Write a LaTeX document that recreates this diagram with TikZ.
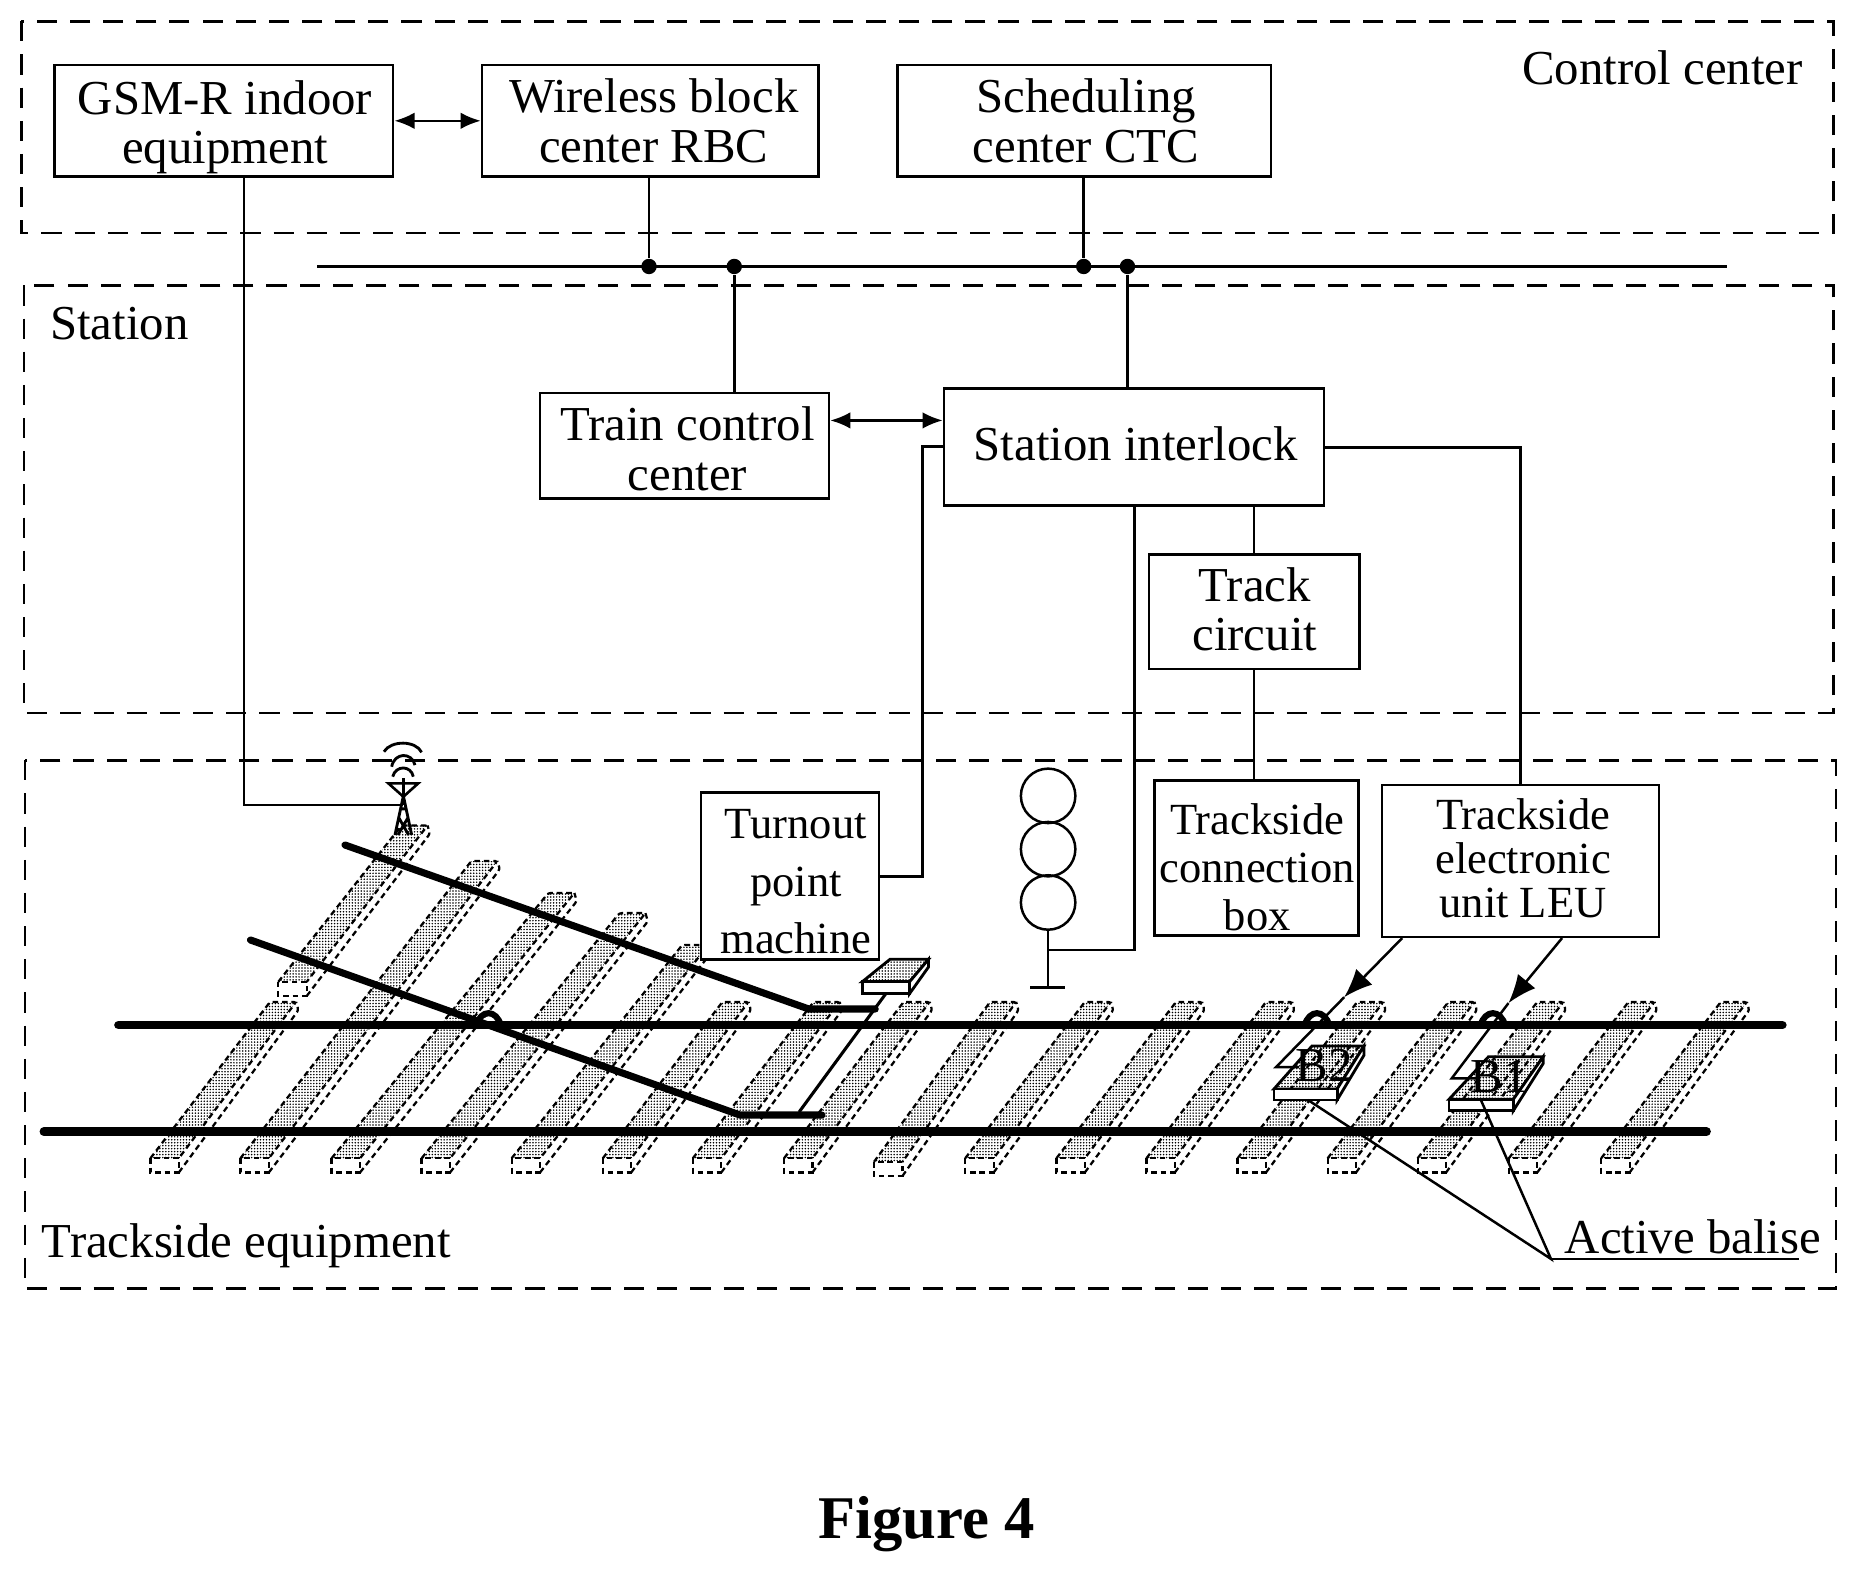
\documentclass[tikz,border=0pt]{standalone}
\usepackage{fontspec}
\setmainfont{Liberation Serif}
\usetikzlibrary{arrows.meta,patterns.meta,calc}
\newcommand{\fs}[2]{\fontsize{#1}{#2}\selectfont}
\newcommand{\tx}[3]{\kern#1\setbox0=\hbox{\begin{tabular}{@{}c@{}}#3\end{tabular}}\raisebox{\dimexpr#2+(\dp0-\ht0)/2\relax}[0pt][0pt]{\copy0}}
% style, name, x1,y1,x2,y2, text
\newcommand{\bx}[7]{\node[#1,minimum width={(#5-#3)*0.5pt},minimum height={(#6-#4)*0.5pt}] (#2) at ({(#3+#5)/2},{(#4+#6)/2}) {#7};}
% x0, y0 (front top-left), top-left x offset, top y
\newcommand{\sleeper}[4]{%
  \fill[slfill] (#1,#2) -- ({#1+#3},#4) -- ({#1+#3+22},#4) -- ({#1+24},#2) -- cycle;
  \draw[sldash] (#1,#2) -- ({#1+#3},#4) -- ({#1+#3+22},#4) -- ({#1+24},#2);
  \draw[sldash,rounded corners=0pt] (#1,#2) rectangle ({#1+24},{#2+12});
  \draw[sldash] ({#1+24},{#2+12}) -- ({#1+#3+24},{#4+7}) -- ({#1+#3+22},#4);
}
\begin{document}
\begin{tikzpicture}[x=0.5pt,y=-0.5pt,line join=miter,
  zone/.style={line width=1pt,dash pattern=on 8.5pt off 5.5pt},
  box/.style={draw,line width=1.05pt,fill=white,inner sep=0pt,font=\fs{20.6}{21}},
  wire/.style={line width=1.05pt},
  dar/.style={wire,{Latex[length=8.5pt,width=7pt]}-{Latex[length=8.5pt,width=7pt]}},
  har/.style={wire,-{Latex[length=12pt,width=9.5pt]}},
  lab/.style={font=\fs{20.6}{20.6},inner sep=0pt},
  dot/.style={circle,fill=black,inner sep=0pt,minimum size=6.5pt},
  lamp/.style={circle,draw,line width=1.05pt,minimum size=23pt,inner sep=0pt},
  rail/.style={line width=3.6pt,line cap=round},
  turn/.style={line width=3pt,line cap=round,line join=round},
  hump/.style={line width=2.6pt},
  slfill/.style={pattern={Dots[radius=0.36pt,distance=1.25pt]},pattern color=black},
  sldash/.style={line width=0.95pt,dash pattern=on 2.4pt off 1.6pt,rounded corners=1pt},
  bface/.style={draw,line width=1.2pt,pattern={Dots[radius=0.36pt,distance=1.25pt]},pattern color=black},
  bfront/.style={draw,line width=1.2pt,fill=white}]
\useasboundingbox (0,0) rectangle (1568,1327.4);

% zones
\draw[zone] (18,18) rectangle (1548,197);
\draw[zone] (20,241) rectangle (1548,602);
\draw[zone] (21,642) rectangle (1550,1088);

% sleepers
\sleeper{235}{829}{104}{697}
\sleeper{127}{978}{101}{846}
\sleeper{203}{978}{195}{727}
\sleeper{280}{978}{183}{754}
\sleeper{356}{978}{167}{771}
\sleeper{432}{978}{144}{798}
\sleeper{509}{978}{101}{846}
\sleeper{585}{978}{102}{846}
\sleeper{662}{978}{101}{846}
\sleeper{738}{981}{98}{846}
\sleeper{815}{978}{101}{846}
\sleeper{892}{978}{101}{846}
\sleeper{968}{978}{101}{846}
\sleeper{1045}{978}{101}{846}
\sleeper{1121}{978}{102}{846}
\sleeper{1197}{978}{101}{846}
\sleeper{1274}{978}{101}{846}
\sleeper{1352}{978}{101}{846}

% rails
\coordinate (r1a) at (100,865.5);
\coordinate (r1b) at (1505,865.5);
\coordinate (r2a) at (37,955.5);
\coordinate (r2b) at (1441,955.5);
\draw[rail] (r1a) -- (r1b);
\draw[rail] (r2a) -- (r2b);
\coordinate (u1) at (291.3,713.5);
\coordinate (u2) at (683,852);
\coordinate (u3) at (739,852);
\coordinate (v1) at (211.5,793.7);
\coordinate (v2) at (624.8,941.5);
\coordinate (v3) at (694,941.5);
\draw[turn] (u1) -- (u2) -- (u3);
\draw[turn] (v1) -- (v2) -- (v3);
\draw[hump] (402,866) .. controls (406,852) and (419,852) .. (423,866);
\draw[hump] (1101.5,866) .. controls (1105.5,852) and (1118.5,852) .. (1122.5,866);
\draw[hump] (1250,866) .. controls (1254,852) and (1267,852) .. (1271,866);

% point machine body
\coordinate (pmA) at (674.7,939);
\coordinate (pmB) at (748.7,838);
\draw[line width=1.3pt] (pmA) -- (pmB);
\draw[bface] (728,829) -- (751.5,810) -- (784,810) -- (768,829) -- cycle;
\draw[bfront] (768,829) -- (784,810) -- (784,816.5) -- (768,839) -- cycle;
\draw[bfront] (728,829) rectangle (768,839);

% control centre boxes
\bx{box}{gsm}{46}{55}{332}{149}{\tx{1pt}{-3.5pt}{GSM-R indoor\\equipment}}
\bx{box}{rbc}{407}{55}{691}{149}{\tx{3pt}{-3pt}{Wireless block\\center RBC}}
\bx{box}{ctc}{758}{55}{1073}{149}{\tx{1.5pt}{-3pt}{Scheduling\\center CTC}}
\node[lab,anchor=west] (cc) at (1285,57.5) {Control center};
\node[lab,anchor=west] (st) at (42,273) {Station};
\node[lab,anchor=west] (te) at (35,1052) {Trackside equipment};

% station boxes
\bx{box}{tcc}{456}{332}{700}{421}{\tx{2.5pt}{-4pt}{Train control\\center}}
\bx{box}{ilk}{797}{328}{1118}{427}{\tx{1.5pt}{-1.5pt}{Station interlock}}
\bx{box,font=\fs{20.6}{20.6}}{tkc}{970}{468}{1148}{565}{\tx{0.5pt}{-2pt}{Track\\circuit}}

% trackside boxes
\bx{box,font=\fs{18.8}{24.3}}{tpm}{592}{669}{742}{810}{\tx{5pt}{-3.7pt}{Turnout\\point\\machine}}
\bx{box,font=\fs{18.8}{20.4}}{tcb}{975}{659}{1147}{790}{\tx{0.5pt}{-6.2pt}{Trackside\\connection\\box}}
\bx{box,font=\fs{18.8}{18.75}}{leu}{1167}{663}{1401}{791}{\tx{2pt}{-1.5pt}{Trackside\\electronic\\unit LEU}}

% bus
\coordinate (busL) at (268,225);
\coordinate (busR) at (1458,225);
\draw[wire] (busL) -- (busR);
\node[dot] (d1) at (548,225) {};
\node[dot] (d2) at (620,225) {};
\node[dot] (d3) at (915,225) {};
\node[dot] (d4) at (952,225) {};

% connectors
\draw[dar] (gsm.east) -- (rbc.west);
\draw[wire] (rbc.south -| d1) -- (d1);
\draw[wire] (ctc.south -| d3) -- (d3);
\draw[wire] (d2) -- (tcc.north -| d2);
\draw[wire] (d4) -- (ilk.north -| d4);
\coordinate (ta) at (700,355);
\draw[dar] (tcc.east |- ta) -- (ilk.west |- ta);

\coordinate (ant) at (340.6,679.5);
\coordinate (g1) at (206,679.5);
\draw[wire] (gsm.south -| g1) -- (g1) -- (ant);

\coordinate (il1) at (779,377);
\coordinate (il1b) at (779,740);
\draw[wire] (ilk.west |- il1) -- (il1) -- (il1b) -- (tpm.east |- il1b);
\coordinate (il2) at (1284,378);
\draw[wire] (ilk.east |- il2) -- (il2) -- (leu.north -| il2);
\coordinate (il3) at (958,802);
\coordinate (sg) at (885,802);
\draw[wire] (ilk.south -| il3) -- (il3) -- (sg);
\coordinate (il4) at (1059,440);
\draw[wire] (ilk.south -| il4) -- (tkc.north -| il4);
\draw[wire] (tkc.south -| il4) -- (tcb.north -| il4);

% signal
\node[lamp] (l1) at (885,672) {};
\node[lamp] (l2) at (885,717) {};
\node[lamp] (l3) at (885,762) {};
\coordinate (sb) at (885,834);
\coordinate (sbl) at (870,834);
\coordinate (sbr) at (899,834);
\draw[wire] (l3.south) -- (sb);
\draw[wire] (sbl) -- (sbr);

% antenna
\draw[line width=1.1pt] (327.9,661.4) -- (353.2,661.4) -- (340.6,672.7) -- cycle;
\draw[line width=1.3pt] (340.6,657.2) -- (340.6,680);
\draw[line width=1.2pt] (340.6,672) -- (333.5,705) (340.6,672) -- (347.6,705)
  (336.5,690) -- (345,705) (344.7,690) -- (336,705) (337.5,683) -- (343.7,683);
\draw[line width=1.2pt] (331.6,655.8) .. controls (334,646) and (347,646) .. (349,655.8);
\draw[line width=1.2pt] (330.7,647.4) .. controls (333,635) and (348,635) .. (350.4,646);
\draw[line width=1.2pt] (324.2,634.7) .. controls (330,625) and (351,625) .. (356,635.2);

% balise B2
\draw[bface] (1075.7,919.5) -- (1107.8,883.2) -- (1151.7,883.2) -- (1129,919.5) -- cycle;
\draw[bfront] (1129,919.5) -- (1151.7,883.2) -- (1151.7,891) -- (1129,928.8) -- cycle;
\draw[bfront] (1075.7,919.5) rectangle (1129,928.8);
\node[lab] (b2) at (1118,900) {B2};
% balise B1
\draw[bface] (1223.5,928.2) -- (1256.8,892.3) -- (1303,892.3) -- (1277.8,928.2) -- cycle;
\draw[bfront] (1277.8,928.2) -- (1303,892.3) -- (1303,898) -- (1277.8,937.8) -- cycle;
\draw[bfront] (1223.5,928.2) rectangle (1277.8,937.8);
\node[lab] (b1) at (1266,909) {B1};

% LEU to balises
\coordinate (a2) at (1135,842);
\coordinate (e2) at (1077.5,901);
\coordinate (f2) at (1097,901);
\coordinate (a1) at (1273.7,847);
\coordinate (e1) at (1225.8,910.5);
\coordinate (f1) at (1247,910.5);
\draw[har] ([xshift=-50pt]leu.south) -- (a2);
\draw[wire] (a2) -- (e2) -- (f2);
\draw[har] ([xshift=17.5pt]leu.south) -- (a1);
\draw[wire] (a1) -- (e1) -- (f1);

% Active balise leaders
\coordinate (hub) at (1309.6,1063);
\coordinate (hubR) at (1519,1063);
\coordinate (l2e) at (1104.4,928.8);
\coordinate (l1e) at (1250.5,929);
\draw[wire] (l2e) -- (hub) -- (l1e);
\draw[wire] (hub) -- (hubR);
\node[lab] (ab) at (1429.5,1044) {Active balise};

% caption
\node[inner sep=0pt,font=\fs{25.6}{25.6}\bfseries] (fig) at (782.5,1287) {Figure 4};
\end{tikzpicture}
\end{document}
